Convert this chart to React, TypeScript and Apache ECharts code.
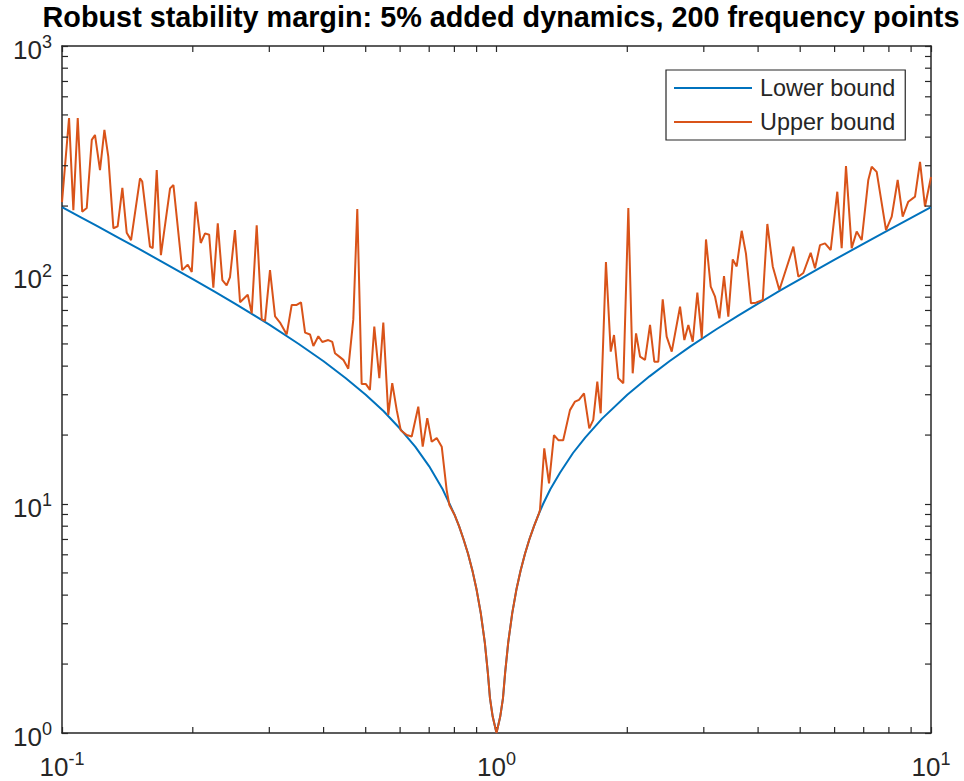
import React, { useEffect, useRef } from "react";
import * as echarts from "echarts";

// ---------- data ----------
const TITLE = "Robust stability margin: 5% added dynamics, 200 frequency points";
const SERIES_NAMES = ["Lower bound", "Upper bound"];

const X_MIN = 0.1;
const X_MAX = 10;
const Y_MIN = 1;
const Y_MAX = 1000;

// minor tick values (MATLAB style log ticks)
const xMinorTicks = [0.2, 0.3, 0.4, 0.5, 0.6, 0.7, 0.8, 0.9, 2, 3, 4, 5, 6, 7, 8, 9];
const yMinorTicks = [2, 3, 4, 5, 6, 7, 8, 9, 20, 30, 40, 50, 60, 70, 80, 90, 200, 300, 400, 500, 600, 700, 800, 900];

// shared part of both bounds, around the notch at 1 rad/s
const centerFreq = [0.8, 0.82, 0.84, 0.86, 0.88, 0.9, 0.92, 0.94, 0.955, 0.966, 0.98, 1.0, 1.02, 1.035, 1.047, 1.064, 1.087, 1.111, 1.136, 1.163, 1.19, 1.22, 1.25];
const centerVals = [9.0, 8.0, 7.0, 6.06, 5.13, 4.22, 3.34, 2.48, 1.84, 1.42, 1.18, 1.0, 1.18, 1.42, 1.84, 2.48, 3.34, 4.22, 5.11, 6.06, 7.0, 8.0, 9.0];

// lower bound (smooth)
const lowerFreqLeft = [0.1, 0.11, 0.12, 0.135, 0.15, 0.17, 0.2, 0.225, 0.25, 0.28, 0.3, 0.35, 0.4, 0.45, 0.5, 0.55, 0.6, 0.65, 0.7, 0.75, 0.78];
const lowerLeft = [198, 179.6, 164.3, 145.4, 130.3, 114.2, 96, 84.4, 75, 65.8, 60.7, 50.1, 42, 35.4, 30, 25.4, 21.3, 17.8, 14.6, 11.7, 10.0];
const lowerFreqRight = [1.28, 1.33, 1.4, 1.5, 1.6, 1.75, 2, 2.25, 2.5, 2.8, 3.2, 3.6, 4, 4.5, 5, 5.5, 6, 7, 8, 9, 10];
const lowerRight = [10.0, 11.6, 13.7, 16.7, 19.5, 23.6, 30, 36.1, 42, 48.9, 57.8, 66.4, 75, 85.6, 96, 106.4, 116.7, 137.1, 157.5, 177.8, 198];

// upper bound (jagged)
const upperFreqLeft = [0.1, 0.1038, 0.1062, 0.1087, 0.1113, 0.114, 0.1171, 0.1191, 0.1223, 0.1252, 0.1278, 0.1313, 0.1343, 0.1377, 0.1409, 0.1442, 0.1512, 0.153, 0.1594, 0.1617, 0.1652, 0.1689, 0.1773, 0.1805, 0.1891, 0.1947, 0.1989, 0.2031, 0.2086, 0.2134, 0.2181, 0.223, 0.2283, 0.2339, 0.2393, 0.2436, 0.2501, 0.2569, 0.2676, 0.2733, 0.2806, 0.2882, 0.2933, 0.3011, 0.3093, 0.3175, 0.329, 0.3378, 0.3468, 0.3549, 0.3626, 0.3723, 0.3789, 0.389, 0.3973, 0.4101, 0.4189, 0.4249, 0.4347, 0.4441, 0.4559, 0.4682, 0.4782, 0.4894, 0.5006, 0.5113, 0.5233, 0.5374, 0.5489, 0.5636, 0.5755, 0.5894, 0.602, 0.6215, 0.6381, 0.6607, 0.6764, 0.6929, 0.7093, 0.7284, 0.7481, 0.7679, 0.7789];
const upperLeft = [208, 485, 192, 485, 189, 196, 389, 409, 287, 430, 329, 160, 163, 240, 153, 142, 264, 256, 133, 131, 287, 122, 239, 247, 105, 111, 103, 209, 138, 152, 150, 88, 168, 95, 90, 98, 157, 76, 82, 68, 165, 64, 63, 105, 66, 62, 55, 74, 74, 76, 56, 55, 49, 54, 51, 52, 51, 45.5, 44, 42.6, 39, 64, 194, 33.4, 33.4, 31.5, 59.5, 35.4, 62, 24.5, 33.7, 25.7, 21, 20, 19.7, 26.6, 17.8, 23.7, 18.7, 19.4, 17.8, 11.5, 9.9];
const upperFreqRight = [1.259, 1.288, 1.321, 1.356, 1.388, 1.424, 1.476, 1.516, 1.548, 1.59, 1.635, 1.67, 1.706, 1.737, 1.786, 1.832, 1.864, 1.907, 1.958, 2.011, 2.058, 2.095, 2.14, 2.197, 2.256, 2.308, 2.357, 2.413, 2.464, 2.531, 2.645, 2.706, 2.764, 2.829, 2.899, 2.968, 3.035, 3.112, 3.184, 3.258, 3.339, 3.416, 3.497, 3.571, 3.667, 3.751, 3.852, 3.955, 4.1, 4.201, 4.323, 4.477, 4.822, 4.951, 5.083, 5.286, 5.408, 5.553, 5.702, 5.877, 6.086, 6.229, 6.373, 6.568, 6.745, 6.926, 7.173, 7.303, 7.499, 7.879, 8.121, 8.381, 8.606, 8.867, 9.188, 9.435, 9.687, 10];
const upperRight = [9.4, 17.5, 12.3, 20.0, 19.0, 19.0, 25.7, 28.0, 28.5, 30.4, 21.4, 23.3, 34.2, 24.9, 114, 46.3, 54.7, 35.4, 33.7, 196, 37.2, 55.6, 44.0, 42.6, 60.5, 41.8, 41.8, 78.3, 53.8, 46.3, 72.7, 52.0, 60.5, 51.1, 83.7, 53, 143, 88.9, 80.4, 64.7, 99.0, 65.8, 117, 109, 156, 124, 75.2, 75.7, 77.8, 167, 109, 86, 133, 98.3, 102, 125, 107, 135, 137.5, 128.6, 231, 131, 299, 131, 155, 142, 260, 297, 282, 157, 180, 260, 180, 209, 220, 312, 199, 268];

// ---------- styling ----------
const FONT = "'Liberation Sans', Arial, Helvetica, sans-serif";
const AXIS = "#262626";
const BLUE = "#0072BD";
const ORANGE = "#D95319";
const TICK = 6;

const zip = (xs: number[], ys: number[]) => xs.map((x, i) => [x, ys[i]]);

const lowerData = [
  ...zip(lowerFreqLeft, lowerLeft),
  ...zip(centerFreq, centerVals),
  ...zip(lowerFreqRight, lowerRight),
];
const upperData = [
  ...zip(upperFreqLeft, upperLeft),
  ...zip(centerFreq, centerVals),
  ...zip(upperFreqRight, upperRight),
];

const expLabel = (v: number) => `{b|10}{s|${Math.round(Math.log10(v))}}`;
const richLabel = {
  b: { fontSize: 26, lineHeight: 34, verticalAlign: "bottom", fontFamily: FONT, color: AXIS },
  s: { fontSize: 18, verticalAlign: "top", padding: [4, 0, 0, 0], fontFamily: FONT, color: AXIS },
};

export default function App() {
  const ref = useRef<HTMLDivElement>(null);
  useEffect(() => {
    if (!ref.current) return;
    const chart = echarts.init(ref.current, undefined, { renderer: "svg" });
    const tickStyle = { color: AXIS, width: 1.2 };
    const lineStyleAxis = { color: AXIS, width: 1.5 };
    const option: any = {
      animation: false,
      backgroundColor: "#fff",
      title: {
        text: TITLE,
        left: 501,
        top: 9,
        padding: 0,
        textAlign: "center",
        textStyle: { fontFamily: FONT, fontSize: 28.8, fontWeight: "bold", color: "#000", lineHeight: 16 },
      },
      grid: { left: 62, right: 33, top: 46, bottom: 48, containLabel: false, outerBoundsMode: "none" },
      legend: {
        data: SERIES_NAMES,
        orient: "vertical",
        left: 666,
        top: 70,
        padding: [5, 10, 5, 8],
        itemGap: 8,
        itemWidth: 78,
        itemHeight: 2,
        icon: "rect",
        borderColor: AXIS,
        borderWidth: 1.2,
        backgroundColor: "#fff",
        textStyle: { fontFamily: FONT, fontSize: 23.4, color: AXIS, lineHeight: 26, padding: [0, 0, 0, 3] },
      },
      xAxis: [
        {
          type: "log",
          logBase: 10,
          min: X_MIN,
          max: X_MAX,
          position: "bottom",
          axisLine: { show: true, lineStyle: lineStyleAxis },
          axisTick: { show: true, inside: true, length: TICK, lineStyle: tickStyle },
          splitLine: { show: false },
          axisLabel: { show: true, margin: 13, formatter: expLabel, rich: richLabel },
        },
        {
          type: "log",
          logBase: 10,
          min: X_MIN,
          max: X_MAX,
          position: "top",
          axisLine: { show: true, lineStyle: lineStyleAxis },
          axisTick: { show: true, inside: true, length: TICK, lineStyle: tickStyle },
          splitLine: { show: false },
          axisLabel: { show: false },
        },
      ],
      yAxis: [
        {
          type: "log",
          logBase: 10,
          min: Y_MIN,
          max: Y_MAX,
          position: "left",
          axisLine: { show: true, lineStyle: lineStyleAxis },
          axisTick: { show: true, inside: true, length: TICK, lineStyle: tickStyle },
          splitLine: { show: false },
          axisLabel: { show: true, margin: 10, formatter: expLabel, rich: richLabel },
        },
        {
          type: "log",
          logBase: 10,
          min: Y_MIN,
          max: Y_MAX,
          position: "right",
          axisLine: { show: true, lineStyle: lineStyleAxis },
          axisTick: { show: true, inside: true, length: TICK, lineStyle: tickStyle },
          splitLine: { show: false },
          axisLabel: { show: false },
        },
      ],
      series: [
        {
          name: SERIES_NAMES[0],
          type: "line",
          data: lowerData,
          symbol: "none",
          showSymbol: false,
          clip: true,
          lineStyle: { color: BLUE, width: 2 },
          itemStyle: { color: BLUE },
          z: 3,
        },
        {
          name: SERIES_NAMES[1],
          type: "line",
          data: upperData,
          symbol: "none",
          showSymbol: false,
          clip: true,
          lineStyle: { color: ORANGE, width: 2 },
          itemStyle: { color: ORANGE },
          z: 4,
        },
        {
          name: "xMinor",
          type: "custom",
          silent: true,
          data: xMinorTicks.map((v) => [v, Y_MIN]),
          renderItem: (_p: any, api: any) => {
            const v = api.value(0);
            const b = api.coord([v, Y_MIN]);
            const t = api.coord([v, Y_MAX]);
            return {
              type: "group",
              children: [
                { type: "line", shape: { x1: b[0], y1: b[1], x2: b[0], y2: b[1] - TICK }, style: { stroke: AXIS, lineWidth: 1.2 } },
                { type: "line", shape: { x1: t[0], y1: t[1], x2: t[0], y2: t[1] + TICK }, style: { stroke: AXIS, lineWidth: 1.2 } },
              ],
            };
          },
          z: 5,
        },
        {
          name: "yMinor",
          type: "custom",
          silent: true,
          data: yMinorTicks.map((v) => [X_MIN, v]),
          renderItem: (_p: any, api: any) => {
            const v = api.value(1);
            const l = api.coord([X_MIN, v]);
            const r = api.coord([X_MAX, v]);
            return {
              type: "group",
              children: [
                { type: "line", shape: { x1: l[0], y1: l[1], x2: l[0] + TICK, y2: l[1] }, style: { stroke: AXIS, lineWidth: 1.2 } },
                { type: "line", shape: { x1: r[0], y1: r[1], x2: r[0] - TICK, y2: r[1] }, style: { stroke: AXIS, lineWidth: 1.2 } },
              ],
            };
          },
          z: 5,
        },
      ],
    };
    chart.setOption(option);
    return () => chart.dispose();
  }, []);
  return (
    <div
      ref={ref}
      style={{ position: "fixed", left: 0, top: 0, width: 964, height: 781, background: "#fff" }}
    />
  );
}
